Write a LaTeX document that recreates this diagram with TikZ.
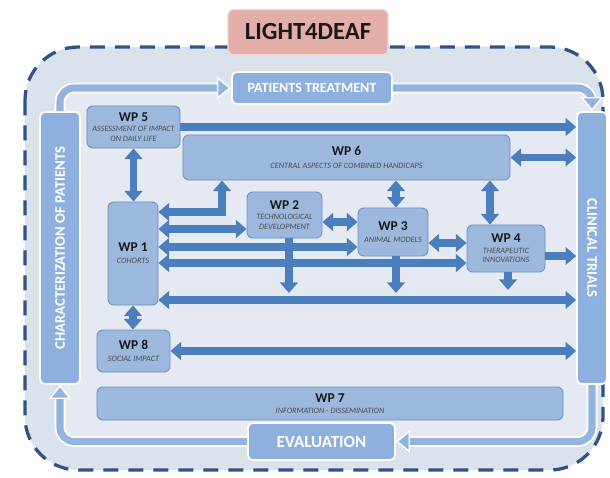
\documentclass[tikz,border=0pt]{standalone}
\usepackage{fontspec}
\setmainfont{Carlito}
\usetikzlibrary{arrows.meta}

\definecolor{frameblue}{HTML}{2F5386}
\definecolor{outerbg}{HTML}{DAE2EC}
\definecolor{innerbg}{HTML}{E5EAF2}
\definecolor{titlepink}{HTML}{E3ADA8}
\definecolor{stageblue}{HTML}{8DB0DE}
\definecolor{wpfill}{HTML}{9CB8DD}
\definecolor{wpedge}{HTML}{6E92C3}
\definecolor{linkblue}{HTML}{4A7EBD}
\definecolor{loopblue}{HTML}{94B4DE}

% work package title inside a box
\newcommand{\wpname}[1]{{\upshape\bfseries\fontsize{11.5}{12}\selectfont\color{black!90}#1}}

\begin{document}
\begin{tikzpicture}[
    x=0.03cm, y=-0.03cm,
    stage/.style={rectangle, rounded corners=4pt, draw=white, line width=1.5pt, fill=stageblue, text=white, font=\bfseries\fontsize{12}{14}\selectfont, align=center},
    coltext/.style={text=white, font=\bfseries\fontsize{12.5}{14}\selectfont},
    wp/.style={rectangle, rounded corners=5pt, draw=wpedge, line width=0.8pt, fill=wpfill, align=center, inner sep=1pt, text=black!70, font=\itshape\fontsize{7}{8}\selectfont},
    fwd/.style={draw=linkblue, line width=6.5pt, -{Triangle[width=15pt,length=9pt]}},
    both/.style={draw=linkblue, line width=6.5pt, {Triangle[width=15pt,length=9pt]}-{Triangle[width=15pt,length=9pt]}},
    loopflow/.style={draw=loopblue, line width=6pt, rounded corners=12pt, preaction={draw=white, line width=9pt, -, shorten >=8pt}, -{Triangle[width=19pt,length=12pt,fill=loopblue,color=white,line width=1.2pt]}}
]
\useasboundingbox (0,0) rectangle (610,478);

% Project frame
\fill[outerbg, rounded corners=1.6cm] (25,47) rectangle (603,470);
\fill[innerbg, rounded corners=0.4cm] (60,88) rectangle (592,441);
\draw[frameblue, line width=2.8pt, dash pattern=on 0.45cm off 0.3cm, rounded corners=1.6cm] (25,47) rectangle (603,470);

% Title
\node[rectangle, rounded corners=5pt, draw=titlepink!50!white, line width=1pt, fill=titlepink, minimum width=4.8cm, minimum height=1.35cm, text=black!90, font=\bfseries\fontsize{21}{24}\selectfont] (title) at (308,32) {LIGHT4DEAF};

% Outer cycle stages
\node[stage, minimum width=4.8cm, minimum height=0.96cm] (treat) at (312,88) {PATIENTS TREATMENT};
\node[stage, minimum width=4.41cm, minimum height=1.11cm, font=\bfseries\fontsize{14.5}{16}\selectfont] (eval) at (321.5,441.5) {EVALUATION};
\node[stage, minimum width=1.2cm, minimum height=8.16cm, label={[coltext, rotate=90]center:CHARACTERIZATION OF PATIENTS}] (charac) at (60,248) {};
\node[stage, minimum width=0.9cm, minimum height=8.16cm, label={[coltext, rotate=-90]center:CLINICAL TRIALS}] (trials) at (592,248) {};

% Work packages
\node[wp, minimum width=2.79cm, minimum height=1.26cm] (wp5) at (133.5,127) {\wpname{WP 5}\\[1pt]ASSESSMENT OF IMPACT\\ON DAILY LIFE};
\node[wp, minimum width=9.81cm, minimum height=1.35cm] (wp6) at (346.5,157.5) {\wpname{WP 6}\\[3pt]CENTRAL ASPECTS OF COMBINED HANDICAPS};
\node[wp, minimum width=1.5cm, minimum height=3.09cm] (wp1) at (133,253.5) {\wpname{WP 1}\\[2pt]COHORTS};
\node[wp, minimum width=2.25cm, minimum height=1.38cm] (wp2) at (284.5,215) {\wpname{WP 2}\\[1pt]TECHNOLOGICAL\\DEVELOPMENT};
\node[wp, minimum width=2.1cm, minimum height=1.44cm] (wp3) at (393,232) {\wpname{WP 3}\\[2pt]ANIMAL MODELS};
\node[wp, minimum width=2.34cm, minimum height=1.41cm] (wp4) at (506,248.5) {\wpname{WP 4}\\[1pt]THERAPEUTIC\\INNOVATIONS};
\node[wp, minimum width=2.19cm, minimum height=1.26cm] (wp8) at (133.5,351) {\wpname{WP 8}\\[2pt]SOCIAL IMPACT};
\node[wp, minimum width=13.98cm, minimum height=0.99cm] (wp7) at (330,403.5) {\wpname{WP 7}\\[1pt]INFORMATION - DISSEMINATION};

% Cycle arrows round the frame
\draw[loopflow] (charac.north) |- (treat.west);
\draw[loopflow] (treat.east) -| (trials.north);
\draw[loopflow] (trials.south) |- (eval.east);
\draw[loopflow] (eval.west) -| (charac.south);

% Rows and columns of the links
\coordinate (rowa) at (0,229);
\coordinate (rowb) at (0,247);
\coordinate (rowc) at (0,263);
\coordinate (rowd) at (0,300);
\coordinate (rowe) at (0,222);
\coordinate (rowf) at (0,243);
\coordinate (rowg) at (0,256);
\coordinate (elbow) at (222,212);
\coordinate (col4) at (490,0);
\coordinate (drop2) at (289,293);
\coordinate (drop3) at (396,293);
\coordinate (drop4) at (508,290);

% Links towards clinical trials
\draw[fwd] (wp5.east) -- (wp5.east -| trials.west);
\draw[both] (wp6.east) -- (wp6.east -| trials.west);
\draw[fwd] (wp4.east |- rowg) -- (trials.west |- rowg);
\draw[both] (wp1.east |- rowd) -- (trials.west |- rowd);
\draw[both] (wp8.east) -- (wp8.east -| trials.west);

% Vertical links
\draw[both] (wp5.south) -- (wp5.south |- wp1.north);
\draw[both] (wp1.south) -- (wp1.south |- wp8.north);
\draw[both] (wp6.south -| elbow) |- (wp1.east |- elbow);
\draw[both] (wp6.south -| drop3) -- (wp3.north -| drop3);
\draw[both] (wp6.south -| col4) -- (wp4.north -| col4);
\draw[fwd] (wp2.south -| drop2) -- (drop2);
\draw[fwd] (wp3.south -| drop3) -- (drop3);
\draw[fwd] (wp4.south -| drop4) -- (drop4);

% Links between work packages
\draw[both] (wp1.east |- rowa) -- (wp2.west |- rowa);
\draw[both] (wp1.east |- rowb) -- (wp3.west |- rowb);
\draw[both] (wp1.east |- rowc) -- (wp4.west |- rowc);
\draw[both] (wp2.east |- rowe) -- (wp3.west |- rowe);
\draw[both] (wp3.east |- rowf) -- (wp4.west |- rowf);

\end{tikzpicture}
\end{document}
